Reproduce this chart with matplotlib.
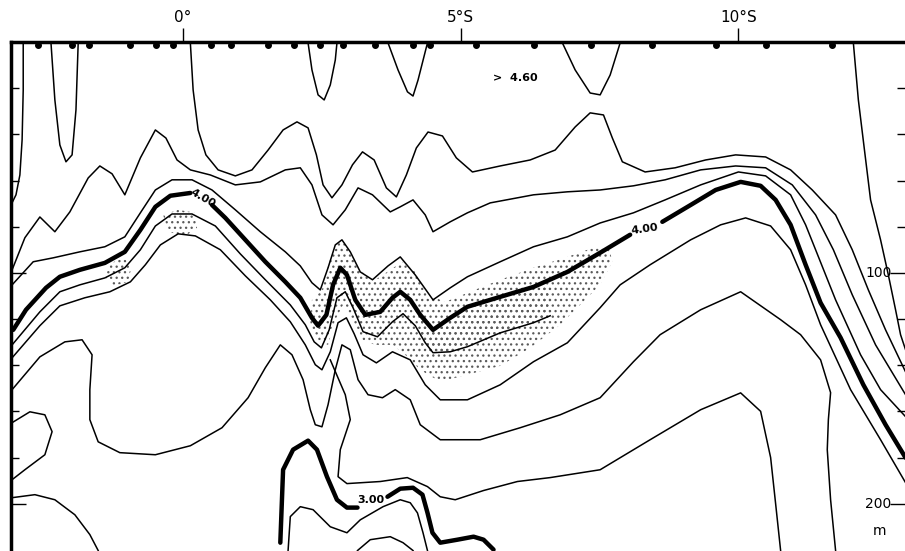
import numpy as np
import matplotlib.pyplot as plt

# latitude (deg S positive) and depth (m)
lat_ticks = [0, 5, 10]
lat_labels = ["0°", "5°S", "10°S"]
depth_ticks = [20, 40, 60, 80, 100, 120, 140, 160, 180, 200]

stations = [-2.62, -2.00, -1.69, -0.95, -0.49, -0.18, 0.50, 0.86, 1.53, 2.00, 2.47,
            2.88, 3.46, 4.14, 4.45, 5.28, 6.32, 7.35, 8.45, 9.60, 10.49, 11.68]

# ---- 4.00 isoline (thick), three pieces
thick_400_a_lat = [-3.06, -2.83, -2.47, -2.22, -1.86, -1.41, -1.05, -0.77, -0.50, -0.23, 0.13]
thick_400_a_dep = [124.7, 116.0, 106.5, 101.7, 98.7, 95.7, 90.9, 81.4, 71.4, 66.6, 65.4]
thick_400_b_lat = [0.52, 0.76, 1.12, 1.48, 1.84, 2.11, 2.32, 2.43, 2.58, 2.70, 2.83, 2.95, 3.10, 3.28,
                   3.55, 3.77, 3.91, 4.09, 4.27, 4.50, 4.81, 5.12, 5.71, 6.31, 6.92, 7.51, 8.05]
thick_400_b_dep = [70.6, 76.2, 85.7, 95.2, 103.9, 110.8, 119.5, 122.9, 118.2, 105.2, 97.8, 100.9, 111.7, 118.2,
                   116.9, 110.8, 108.2, 111.7, 118.2, 124.7, 119.5, 114.7, 110.4, 106.1, 99.6, 91.3, 83.5]
thick_400_c_lat = [8.63, 9.14, 9.59, 10.04, 10.40, 10.67, 10.94, 11.21, 11.48, 11.84, 12.25, 12.65, 13.01]
thick_400_c_dep = [77.9, 70.6, 64.1, 60.6, 62.3, 68.4, 79.2, 96.5, 113.0, 128.1, 148.5, 165.8, 180.1]

# ---- 3.00 isoline (thick), two pieces
thick_300_a_lat = [1.75, 1.80, 1.98, 2.25, 2.41, 2.59, 2.77, 2.95, 3.14]
thick_300_a_dep = [216.9, 185.3, 176.6, 172.7, 176.6, 188.3, 198.3, 201.7, 201.7]
thick_300_b_lat = [3.68, 3.91, 4.14, 4.31, 4.40, 4.49, 4.63, 4.94, 5.23, 5.41, 5.59]
thick_300_b_dep = [197.0, 193.5, 193.1, 196.1, 203.9, 212.6, 216.9, 215.6, 214.3, 215.6, 219.9]

# ---- thin isolines
t1_lat = [-2.88, -2.88, -2.90, -2.94, -3.01, -3.10]
t1_dep = [0.4, 20.8, 42.4, 57.6, 66.2, 70.6]
t2_lat = [-2.38, -2.31, -2.22, -2.11, -2.00, -1.93, -1.89]
t2_dep = [0.4, 25.1, 44.6, 51.9, 48.9, 29.4, 0.4]
u1_lat = [2.25, 2.32, 2.43, 2.54, 2.65, 2.74, 2.77]
u1_dep = [0.4, 12.1, 22.9, 25.1, 18.6, 7.8, 0.4]
v1_lat = [3.69, 3.87, 4.04, 4.14, 4.23, 4.40]
v1_dep = [0.4, 12.1, 21.6, 23.4, 16.5, 0.4]
v2_lat = [6.83, 7.06, 7.33, 7.51, 7.69, 7.87]
v2_dep = [0.4, 12.1, 22.1, 22.9, 14.3, 0.4]
tr_lat = [12.07, 12.16, 12.27, 12.38, 12.56, 12.70, 12.83, 12.92, 13.01]
tr_dep = [0.4, 25.1, 46.8, 68.4, 85.7, 100.9, 116.0, 126.8, 133.3]

t3_lat = [0.13, 0.18, 0.27, 0.41, 0.63, 0.94, 1.24, 1.53, 1.80, 2.05, 2.25, 2.40, 2.52, 2.68, 2.86, 3.05,
          3.23, 3.44, 3.66, 3.84, 4.02, 4.20, 4.41, 4.67, 4.92, 5.21, 5.71, 6.25, 6.70, 7.06, 7.33, 7.57,
          7.73, 7.91, 8.32, 8.86, 9.41, 9.95, 10.49, 10.94, 11.33, 11.75, 12.05, 12.34, 12.65, 13.01]
t3_dep = [0.4, 20.8, 38.1, 48.9, 55.4, 58.0, 55.4, 46.8, 38.1, 34.6, 37.2, 48.9, 61.9, 67.5, 61.9, 53.2,
          47.6, 51.1, 63.2, 67.1, 57.6, 45.9, 39.0, 40.7, 50.2, 56.3, 53.7, 51.1, 46.8, 36.8, 30.7, 31.6,
          41.6, 51.9, 56.3, 54.5, 51.1, 48.9, 49.8, 55.4, 64.1, 74.9, 90.0, 107.4, 124.7, 142.9]

w2_lat = [-3.08, -2.85, -2.58, -2.31, -2.04, -1.71, -1.50, -1.28, -1.05, -0.77, -0.50, -0.31, -0.11,
          0.13, 0.49, 0.94, 1.39, 1.84, 2.11, 2.32, 2.50, 2.70, 2.92, 3.15, 3.41, 3.73, 3.91, 4.14,
          4.36, 4.50, 4.81, 5.12, 5.53, 6.31, 6.92, 7.51, 8.11, 8.68, 9.32, 9.95, 10.49, 10.97, 11.39,
          11.71, 12.05, 12.47, 13.01]
w2_dep = [98.7, 84.8, 75.8, 82.2, 73.6, 58.9, 53.7, 57.1, 66.2, 50.2, 38.1, 41.6, 51.1,
          55.4, 57.6, 61.9, 60.6, 55.4, 54.5, 61.9, 74.9, 79.2, 72.7, 63.2, 66.2, 73.6, 71.4, 68.4,
          74.9, 82.2, 77.9, 74.0, 69.7, 66.2, 64.9, 64.1, 62.3, 59.7, 55.4, 53.7, 54.5, 61.9, 74.9,
          90.0, 109.5, 131.2, 152.8]

la_lat = [-3.08, -2.70, -2.34, -1.86, -1.41, -1.05, -0.77, -0.50, -0.20, 0.16, 0.52, 0.94, 1.39, 1.84,
          2.11, 2.32, 2.47, 2.61, 2.74, 2.86, 3.01, 3.19, 3.41, 3.69, 3.91, 4.18, 4.50, 4.81, 5.12, 5.71,
          6.31, 6.92, 7.51, 8.11, 8.68, 9.32, 10.00, 10.49, 10.94, 11.21, 11.39, 11.75, 12.20, 12.56, 13.01]
la_dep = [105.2, 95.2, 93.5, 90.9, 88.7, 84.4, 74.0, 64.1, 59.7, 59.7, 64.1, 72.7, 82.2, 90.9,
          97.0, 104.3, 107.4, 97.8, 87.9, 85.7, 90.9, 99.6, 103.0, 97.0, 93.1, 100.9, 111.7, 106.5, 101.7, 95.2,
          88.7, 84.4, 78.4, 74.0, 68.4, 61.9, 56.3, 58.0, 66.2, 79.2, 90.0, 111.7, 135.5, 150.6, 162.3]

b1_lat = [-3.08, -2.58, -2.22, -1.86, -1.41, -1.05, -0.77, -0.50, -0.20, 0.16, 0.58, 1.03, 1.48, 1.93,
          2.20, 2.36, 2.49, 2.63, 2.77, 2.92, 3.06, 3.24, 3.50, 3.77, 3.96, 4.18, 4.36, 4.50, 4.81, 5.12,
          5.71, 6.31, 6.61]
b1_dep = [131.2, 116.9, 108.2, 105.2, 102.2, 97.8, 90.0, 79.7, 74.5, 74.5, 79.7, 91.8, 103.0, 113.9,
          122.5, 129.9, 132.5, 124.7, 110.8, 108.2, 115.1, 125.5, 127.7, 121.2, 117.7, 122.9, 130.3, 134.6,
          134.2, 132.0, 126.0, 121.6, 118.6]

b2_lat = [-3.08, -2.58, -2.22, -1.77, -1.32, -0.95, -0.68, -0.41, -0.09, 0.22, 0.67, 1.12, 1.57, 1.93,
          2.20, 2.38, 2.50, 2.65, 2.79, 2.94, 3.08, 3.24, 3.48, 3.77, 4.09, 4.36, 4.63, 5.12, 5.71, 6.31,
          6.92, 7.51, 7.87, 8.41, 9.14, 9.68, 10.13, 10.58, 10.94, 11.21, 11.48, 12.02, 12.56, 13.01]
b2_dep = [136.8, 122.9, 114.3, 110.8, 108.2, 103.9, 96.5, 87.9, 83.1, 84.0, 90.0, 101.3, 111.7, 121.2,
          131.2, 139.8, 142.0, 134.2, 121.6, 119.5, 126.4, 135.5, 139.0, 134.2, 137.7, 148.5, 155.0, 155.0,
          148.5, 138.5, 130.3, 115.1, 105.2, 96.5, 85.7, 79.2, 76.2, 79.7, 90.0, 105.2, 122.5, 150.6,
          172.3, 190.9]

# deeper isoline: dips into a wide trough west of 2°S-1°S, then follows the band
b3_lat = [-3.08, -2.58, -2.13, -1.82, -1.64, -1.68, -1.68, -1.53, -1.14, -0.50, 0.13, 0.70, 1.17,
          1.48, 1.75, 1.96, 2.16, 2.29, 2.38, 2.50, 2.61, 2.74, 2.86, 3.01, 3.15, 3.33, 3.59, 3.82,
          4.09, 4.27, 4.63, 5.35, 6.07, 6.79, 7.51, 8.11, 8.59, 9.32, 10.04, 10.76, 11.12, 11.48,
          11.66, 11.62, 11.60, 11.66, 11.75]
b3_dep = [150.6, 136.4, 129.9, 129.0, 135.5, 150.6, 163.6, 173.2, 177.9, 178.8, 174.9, 167.1, 154.1,
          141.1, 131.2, 135.5, 146.3, 159.3, 165.8, 166.7, 157.1, 142.0, 131.2, 133.3, 146.3, 152.8,
          154.1, 150.6, 155.0, 165.8, 172.3, 172.3, 167.1, 161.5, 154.1, 138.5, 126.8, 116.0, 108.2,
          120.3, 126.8, 137.7, 151.9, 163.6, 176.6, 198.3, 220.3]

lm_a_lat = [2.65, 2.92, 3.01, 2.83, 2.79, 2.95, 3.55, 4.036, 4.40, 4.63, 4.90, 5.41, 6.02, 6.61, 7.51,
            8.41, 9.32, 10.04, 10.40, 10.58, 10.67, 10.76]
lm_a_dep = [137.7, 152.8, 163.6, 176.6, 188.3, 191.3, 190.4, 188.7, 192.6, 197.0, 198.3, 194.3, 190.4,
            188.7, 185.3, 172.3, 159.3, 152.0, 160.0, 180.0, 200.0, 220.3]
lm_b_lat = [1.89, 1.93, 2.11, 2.34, 2.65, 2.95, 3.19, 3.60, 3.91, 4.09, 4.22, 4.32, 4.40]
lm_b_dep = [220.3, 205.6, 201.3, 202.6, 210.0, 212.6, 207.0, 201.3, 198.3, 199.6, 204.0, 212.6, 220.3]
lm_c_lat = [3.14, 3.37, 3.73, 3.96, 4.14]
lm_c_dep = [220.3, 215.6, 214.3, 216.9, 220.3]

ll1_lat = [-3.08, -2.76, -2.49, -2.36, -2.49, -2.85, -3.08]
ll1_dep = [164.9, 160.2, 161.5, 168.8, 178.8, 185.3, 189.6]
ll2_lat = [-3.08, -2.67, -2.31, -1.95, -1.68, -1.53]
ll2_dep = [197.4, 196.1, 198.3, 204.8, 213.4, 220.3]

# ---- stippled areas (outline of the dotted zone)
stip_lat = [2.32, 2.50, 2.65, 2.79, 2.97, 3.15, 3.41, 3.73, 3.95, 4.18, 4.41, 4.72, 5.17, 5.71, 6.31,
            6.92, 7.33, 7.66, 7.73, 7.51, 7.24, 6.79, 6.25, 5.71, 5.17, 4.63, 4.27, 4.00, 3.77, 3.46,
            3.23, 3.05, 2.88, 2.74, 2.61, 2.43, 2.29]
stip_dep = [111.7, 107.4, 93.5, 86.6, 87.9, 97.8, 103.9, 98.7, 95.2, 99.6, 109.5, 112.6, 108.2, 103.0,
            97.8, 93.1, 89.6, 88.3, 95.2, 105.2, 111.7, 122.5, 132.5, 140.3, 143.8, 147.2, 142.0, 135.5,
            131.2, 131.2, 129.0, 120.3, 113.9, 120.3, 131.2, 129.9, 122.5]
core_lat = [4.27, 4.50, 5.12, 5.71, 6.31, 6.61, 6.61, 6.31, 5.71, 5.12, 4.50, 4.27]
core_dep = [119.5, 125.5, 116.0, 111.7, 107.4, 105.2, 118.6, 121.6, 126.0, 132.0, 135.5, 131.2]
p1_lat = [-0.36, -0.09, 0.22, 0.25, 0.04, -0.27]
p1_dep = [74.9, 72.7, 74.0, 80.5, 84.0, 82.2]
p2_lat = [-1.35, -1.10, -0.92, -0.99, -1.24, -1.39]
p2_dep = [96.5, 93.5, 96.1, 103.9, 105.6, 102.2]

plt.rcParams["hatch.linewidth"] = 0.9
fig = plt.figure(figsize=(9.05, 5.51), dpi=100)
ax = fig.add_axes([11/905, 0.0, 1 - 11/905, 1 - 42/551])
ax.set_xlim(-3.10, 13.0)
ax.set_ylim(220.5, 0)

# stippling
for la, de in [(stip_lat, stip_dep), (p1_lat, p1_dep), (p2_lat, p2_dep)]:
    ax.fill(la, de, facecolor="none", edgecolor="#5a5a5a", hatch="...", lw=0)
ax.fill(core_lat, core_dep, facecolor="none", edgecolor="#5a5a5a", hatch="...", lw=0)

thin = [(t1_lat, t1_dep), (t2_lat, t2_dep), (u1_lat, u1_dep), (v1_lat, v1_dep), (v2_lat, v2_dep),
        (tr_lat, tr_dep), (t3_lat, t3_dep), (w2_lat, w2_dep), (la_lat, la_dep), (b1_lat, b1_dep),
        (b2_lat, b2_dep), (b3_lat, b3_dep), (lm_a_lat, lm_a_dep), (lm_b_lat, lm_b_dep),
        (lm_c_lat, lm_c_dep), (ll1_lat, ll1_dep), (ll2_lat, ll2_dep)]
for la, de in thin:
    ax.plot(la, de, color="black", lw=1.1, solid_joinstyle="round")

kw = dict(color="black", lw=3.2, solid_capstyle="round", solid_joinstyle="round")
ax.plot(thick_400_a_lat, thick_400_a_dep, **kw)
ax.plot(thick_400_b_lat, thick_400_b_dep, **kw)
ax.plot(thick_400_c_lat, thick_400_c_dep, **kw)
ax.plot(thick_300_a_lat, thick_300_a_dep, **kw)
ax.plot(thick_300_b_lat, thick_300_b_dep, **kw)

lab = dict(fontsize=8, fontweight="bold", ha="center", va="center")
ax.text(0.36, 67.5, "4.00", rotation=-30, **lab)
ax.text(8.32, 81.0, "4.00", rotation=8, **lab)
ax.text(3.38, 198.3, "3.00", **lab)
ax.text(5.98, 15.5, ">  4.60", **lab)

# stations along the top
ax.plot(stations, [1.2] * len(stations), "o", color="black", ms=4, clip_on=False)

for s in ["bottom", "right"]:
    ax.spines[s].set_visible(False)
ax.spines["left"].set_linewidth(2.5)
ax.spines["top"].set_linewidth(2.5)

ax.xaxis.tick_top()
ax.set_xticks(lat_ticks)
ax.set_xticklabels(lat_labels, fontsize=11)
ax.tick_params(axis="x", direction="out", length=10, width=1, pad=2)

ax.set_yticks(depth_ticks)
ax.set_yticklabels([])
ax.tick_params(axis="y", direction="in", length=6, width=1, left=True, right=True)
for t in ax.yaxis.get_major_ticks():
    if t.get_loc() in (100, 200):
        t.tick1line.set_markersize(11)
        t.tick2line.set_markersize(11)

ax.text(0.985, 100, "100", transform=ax.get_yaxis_transform(), ha="right", va="center", fontsize=10)
ax.text(0.985, 200, "200", transform=ax.get_yaxis_transform(), ha="right", va="center", fontsize=10)
ax.text(0.972, 212, "m", transform=ax.get_yaxis_transform(), ha="center", va="center", fontsize=10)

fig.savefig("out.png", dpi=100)
